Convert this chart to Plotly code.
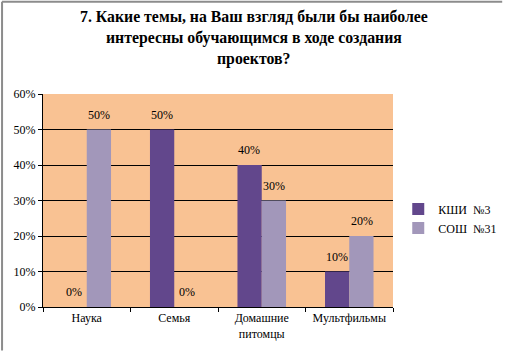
import plotly.graph_objects as go

categories = ["Наука", "Семья", "Домашние<br>питомцы", "Мультфильмы"]
series_names = ["КШИ  №3", "СОШ  №31"]
kshi3 = [0, 50, 40, 10]
sosh31 = [50, 0, 30, 20]
y_ticks = [0, 10, 20, 30, 40, 50, 60]
title_lines = ["7. Какие темы, на Ваш взгляд были бы наиболее",
               "интересны обучающимся в ходе создания",
               "проектов?"]

W, H = 514, 353
L, R, T, B = 43, 112, 94, 44
PW, PH = W - L - R, H - T - B

colors = ["#62478C", "#A297BA"]
FF = "Times New Roman, Liberation Serif, serif"

fig = go.Figure()
for name, vals, col in zip(series_names, [kshi3, sosh31], colors):
    fig.add_trace(go.Bar(x=categories, y=vals, name=name, marker=dict(color=col, line=dict(width=0))))

annotations = []
for i, vals in enumerate([kshi3, sosh31]):
    shift = -12.5 if i == 0 else 12.5
    for c, v in zip(categories, vals):
        annotations.append(dict(x=c, y=v, xref="x", yref="y", text=f"{v}%", showarrow=False,
                                xshift=shift, yshift=15, font=dict(size=12, color="black", family=FF)))

for k, line in enumerate(title_lines):
    annotations.append(dict(x=(W / 2 + 2 - L) / PW, y=(H - B - (16 + 21.5 * k)) / PH, xref="paper", yref="paper",
                            xanchor="center", yanchor="middle", showarrow=False, text=line,
                            font=dict(size=15.8, color="black", family=FF, weight="bold")))

fig.update_layout(
    width=W, height=H,
    margin=dict(l=L, r=R, t=T, b=B),
    paper_bgcolor="white",
    plot_bgcolor="#F9C293",
    barmode="group",
    bargap=0.445,
    bargroupgap=0,
    font=dict(family=FF, size=12, color="black"),
    legend=dict(x=1.015, xanchor="left", y=0.415, yanchor="middle", font=dict(size=12, family=FF),
                itemwidth=30, tracegroupgap=2, bgcolor="rgba(0,0,0,0)"),
    annotations=annotations,
    showlegend=True,
)
fig.update_xaxes(showline=True, linecolor="black", linewidth=1, ticks="outside", tickson="boundaries",
                 ticklen=4, tickcolor="black", showgrid=False, tickfont=dict(size=12, family=FF))
fig.update_yaxes(range=[0, 60], tickmode="array", tickvals=y_ticks, ticktext=[f"{v}%" for v in y_ticks],
                 showline=True, linecolor="black", linewidth=1,
                 ticks="outside", ticklen=4, tickcolor="black", showgrid=True, gridcolor="black", gridwidth=1,
                 zeroline=False, tickfont=dict(size=12, family=FF))

fig.add_shape(type="line", xref="paper", yref="paper", x0=(1 - L) / PW, x1=(1 - L) / PW,
              y0=(H - B - H) / PH, y1=(H - B - 1) / PH, line=dict(color="#8C8C8C", width=2))
fig.add_shape(type="line", xref="paper", yref="paper", x0=(1 - L) / PW, x1=(W - L) / PW,
              y0=(H - B - 1) / PH, y1=(H - B - 1) / PH, line=dict(color="#8C8C8C", width=2))

fig.write_html("out.html", config={"displayModeBar": False},
               post_script="document.body.style.margin='0';document.body.style.padding='0';document.body.style.overflow='hidden';")
